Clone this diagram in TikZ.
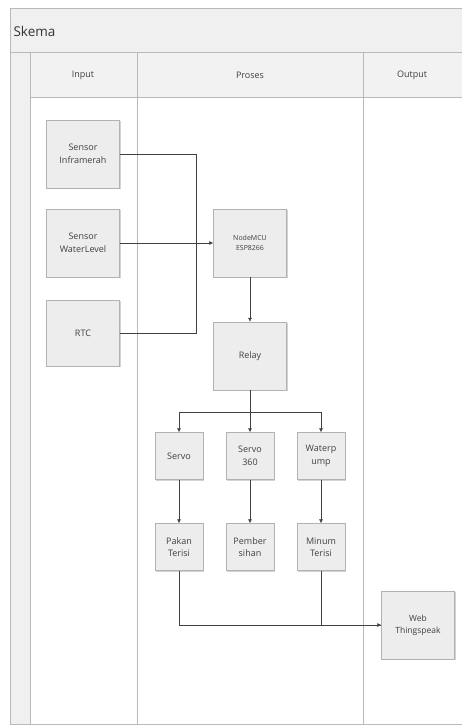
\documentclass[tikz,border=0pt]{standalone}
\usepackage{fontspec}
\setmainfont{Open Sans}
\usetikzlibrary{positioning,arrows.meta,shadows}

\begin{document}
\begin{tikzpicture}[x=1pt, y=-1pt,
    lane/.style={draw=gray!55, line width=0.9pt},
    block/.style={draw=gray!60, fill=gray!14, drop shadow={opacity=0.35, shadow xshift=1.2pt, shadow yshift=-1.2pt}, minimum width=73pt, minimum height=68pt, inner sep=1pt, align=center, font=\fontsize{9}{12.5}\selectfont, text=black!75},
    smallblock/.style={block, minimum width=48pt, minimum height=47pt},
    link/.style={draw=black!75, line width=0.6pt},
    arrow/.style={link, -{Latex[length=4pt, width=4pt]}},
    lanelabel/.style={font=\fontsize{9}{11}\selectfont, text=black!75}
  ]
    \useasboundingbox (0,0) rectangle (462,726);

    % Swimlanes
    \fill[gray!12] (10,8) rectangle (462,52);
    \fill[gray!10] (30,52) rectangle (462,97);
    \fill[gray!12] (10,52) rectangle (30,724);
    \draw[lane] (462,8) -- (10,8) -- (10,724) -- (462,724);
    \draw[lane] (10,52) -- (462,52);
    \draw[lane] (30,97) -- (462,97);
    \draw[lane] (30,52) -- (30,724);
    \draw[lane] (137,52) -- (137,724);
    \draw[lane] (363,52) -- (363,724);
    \node[anchor=west, font=\fontsize{13.5}{16}\selectfont, text=black!80] (title) at (10,31) {Skema};
    \node[lanelabel] (input) at (83,75) {Input};
    \node[lanelabel] (proses) at (250,75) {Proses};
    \node[lanelabel] (output) at (412,75) {Output};

    % Input blocks
    \node[block] (inframerah) at (83,154) {Sensor\\Inframerah};
    \node[block] (waterlevel) at (83,243) {Sensor\\WaterLevel};
    \node[block, minimum height=66pt] (rtc) at (83,333) {RTC};

    % Process blocks
    \node[block, font=\fontsize{7}{9.5}\selectfont] (nodemcu) at (250,243) {NodeMCU\\ESP8266};
    \node[block] (relay) at (250,356) {Relay};
    \node[smallblock] (servo) at (179,456) {Servo};
    \node[smallblock] (servo360) at (250,456) {Servo\\360};
    \node[smallblock] (waterpump) at (321,456) {Waterp\\ump};
    \node[smallblock] (pakan) at (179,547) {Pakan\\Terisi};
    \node[smallblock] (pembersihan) at (250,547) {Pember\\sihan};
    \node[smallblock] (minum) at (321,547) {Minum\\Terisi};

    % Output block
    \node[block, font=\fontsize{8.5}{12}\selectfont] (web) at (418,625) {Web\\Thingspeak};

    % Connectors
    \coordinate (join) at (196,243);
    \coordinate (split) at (250,412);
    \draw[link] (inframerah.east) -| (join);
    \draw[link] (rtc.east) -| (join);
    \draw[arrow] (waterlevel.east) -- (nodemcu.west);
    \draw[arrow] (nodemcu.south) -- (relay.north);
    \draw[link] (relay.south) -- (split);
    \draw[arrow] (split) -| (servo.north);
    \draw[arrow] (split) -- (servo360.north);
    \draw[arrow] (split) -| (waterpump.north);
    \draw[arrow] (servo.south) -- (pakan.north);
    \draw[arrow] (servo360.south) -- (pembersihan.north);
    \draw[arrow] (waterpump.south) -- (minum.north);
    \draw[arrow] (pakan.south) |- (web.west);
    \draw[link] (minum.south) |- (web.west);
\end{tikzpicture}
\end{document}
